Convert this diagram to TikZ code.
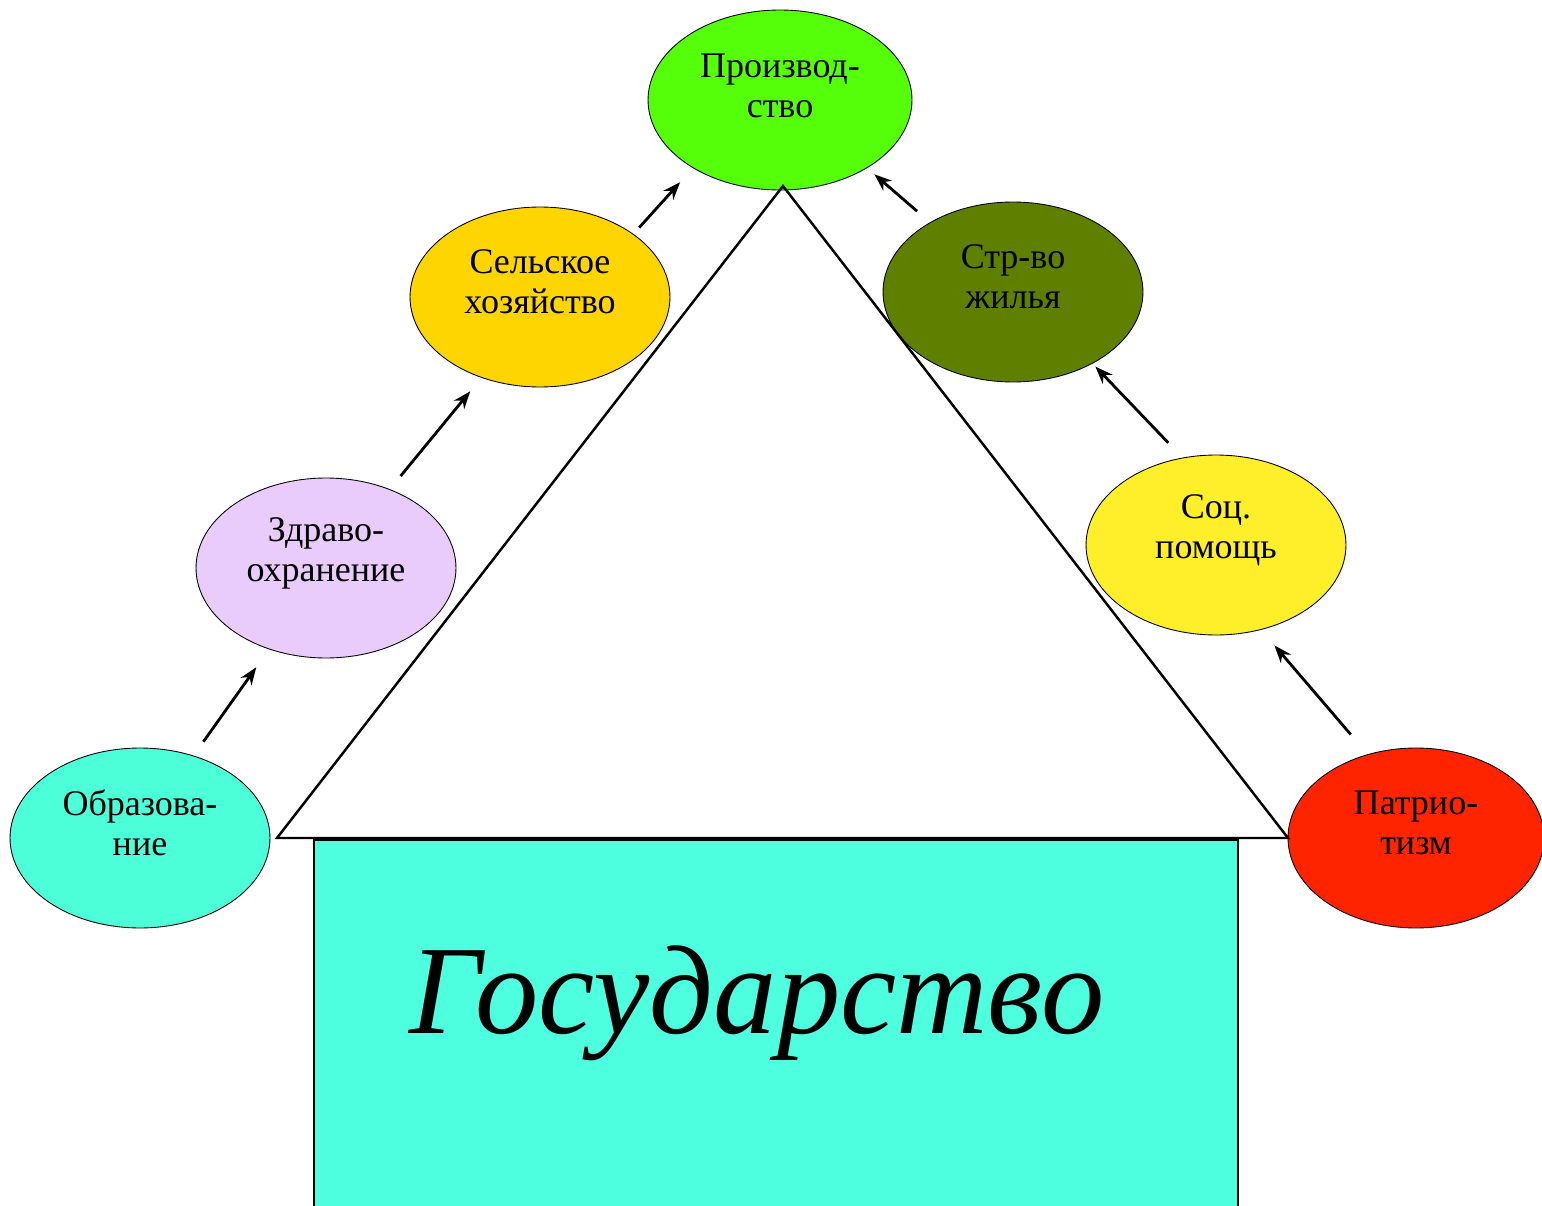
\documentclass[tikz,border=0pt]{standalone}
\usepackage{fontspec}
\setmainfont{Liberation Serif}
\usetikzlibrary{arrows.meta,shapes.geometric}
\definecolor{cprod}{HTML}{55FF0A}
\definecolor{csel}{HTML}{FFD500}
\definecolor{czdr}{HTML}{E9CCFB}
\definecolor{cobr}{HTML}{4DFFD9}
\definecolor{cstr}{HTML}{5E7F00}
\definecolor{csoc}{HTML}{FFEE2A}
\definecolor{cpatr}{HTML}{FF2400}
\definecolor{crect}{HTML}{4DFFDE}
\tikzset{
  ell/.style={ellipse, draw=black, line width=0.5pt, minimum width=5.2cm, minimum height=3.6cm, inner sep=0pt},
  lbl/.style={font=\fontsize{20.5}{22.7}\selectfont, align=center, inner sep=0pt},
  arr/.style={-{Stealth[length=10pt,width=7.5pt]}, line width=1.6pt},
  edge/.style={line width=1.4pt, line join=miter}
}
\begin{document}
\begin{tikzpicture}[x=0.02cm,y=-0.02cm]
\useasboundingbox (0,0) rectangle (1542,1206);
% ellipses
\node[ell, fill=cprod, minimum width=5.28cm] (prod) at (780,100) {};
\node[ell, fill=csel] (sel) at (540,297) {};
\node[ell, fill=czdr] (zdr) at (326,568) {};
\node[ell, fill=cobr] (obr) at (140,838) {};
\node[ell, fill=cstr] (str) at (1013,292) {};
\node[ell, fill=csoc] (soc) at (1216,545) {};
\node[ell, fill=cpatr, minimum width=5.12cm] (patr) at (1416,838) {};
% house body
\draw[line width=1.2pt, fill=crect] (314,840) rectangle (1238,1230);
% roof
\coordinate (apex) at (783,186);
\coordinate (bl) at (277,838);
\coordinate (br) at (1288,838);
\draw[edge] (apex) -- (bl) -- (br) -- cycle;
% arrows
\draw[arr, shorten <=0.34cm, shorten >=0.44cm] (obr.57) -- (zdr.235);
\draw[arr, shorten <=0.34cm, shorten >=0.35cm] (zdr.51) -- (sel.234);
\draw[arr, shorten <=0.17cm, shorten >=0.38cm] (sel.34) -- (prod.218);
\draw[arr, shorten <=0.52cm, shorten >=0.41cm] (patr.120) -- (soc.298);
\draw[arr, shorten <=0.41cm, shorten >=0.08cm] (soc.111) -- (str.318);
\draw[arr, shorten <=0.34cm, shorten >=0.19cm] (str.140) -- (prod.322);
% labels
\node[lbl] (tprod) at ([yshift=0.28cm]prod.center) {Производ-\\ство};
\node[lbl] (tsel) at ([yshift=0.3cm]sel.center) {Сельское\\хозяйство};
\node[lbl] (tzdr) at ([yshift=0.3cm]zdr.center) {Здраво-\\охранение};
\node[lbl] (tobr) at ([yshift=0.3cm]obr.center) {Образова-\\ние};
\node[lbl] (tstr) at ([yshift=0.3cm]str.center) {Стр-во\\жилья};
\node[lbl] (tsoc) at ([yshift=0.3cm]soc.center) {Соц.\\помощь};
\node[lbl] (tpatr) at ([yshift=0.3cm]patr.center) {Патрио-\\тизм};
\node[font=\fontsize{72}{84}\selectfont\itshape, inner sep=0pt] (state) at (757,1003) {Государство};
\end{tikzpicture}
\end{document}
